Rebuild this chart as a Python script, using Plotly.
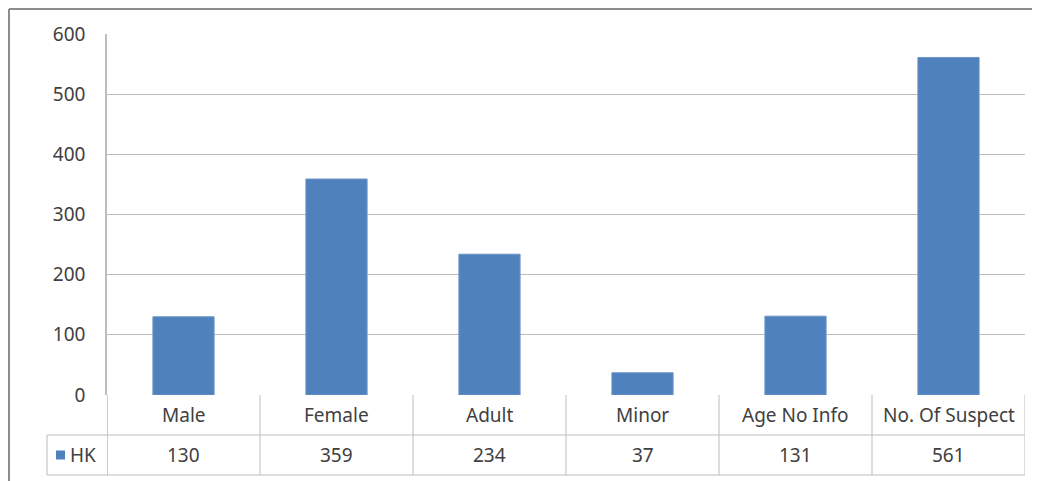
import plotly.graph_objects as go

categories = ["Male", "Female", "Adult", "Minor", "Age No Info", "No. Of Suspect"]
series_name = "HK"
values = [130, 359, 234, 37, 131, 561]
y_ticks = [0, 100, 200, 300, 400, 500, 600]

# the page body adds an 8px offset, so local coords = screen - 8
W, H = 1032, 473
L, T = 99, 26
pw, ph = 918, 361
R = W - L - pw
B = H - T - ph
row_h = 40 / ph  # table row height in paper units

FONT = "Noto Sans"
FS = 19
TXT = "#404040"
LINE = "#bdbdbd"
BAR = "#4f81bd"

fig = go.Figure()
fig.add_trace(go.Bar(
    x=list(range(len(categories))), y=values, name=series_name,
    marker=dict(color=BAR, line=dict(color="#6d95c8", width=1)),
    width=0.4,
))

shapes = []
n = len(categories)
leg_x = -60 / pw
# vertical table lines at category boundaries
for i in range(n + 1):
    shapes.append(dict(type="line", xref="x", yref="paper", x0=i - 0.5, x1=i - 0.5,
                       y0=0, y1=-2 * row_h, line=dict(color=LINE, width=1.5 if i == 0 else 1)))
# horizontal table lines
for k in (1, 2):
    shapes.append(dict(type="line", xref="paper", yref="paper", x0=leg_x, x1=1,
                       y0=-k * row_h, y1=-k * row_h, line=dict(color=LINE, width=1)))
# left edge of legend cell
shapes.append(dict(type="line", xref="paper", yref="paper", x0=leg_x, x1=leg_x,
                   y0=-row_h, y1=-2 * row_h, line=dict(color=LINE, width=1)))
# legend key square
shapes.append(dict(type="rect", xref="paper", yref="paper",
                   x0=-51 / pw, x1=-42 / pw, y0=-1.5 * row_h - 4.5 / ph, y1=-1.5 * row_h + 4.5 / ph,
                   fillcolor=BAR, line=dict(width=0)))
# outer chart border (top and left visible)
shapes.append(dict(type="line", xref="paper", yref="paper",
                   x0=-(L - 1) / pw, x1=1 + (R + 5) / pw, y0=1 + (T - 1) / ph, y1=1 + (T - 1) / ph,
                   line=dict(color="#8c8c8c", width=2)))
shapes.append(dict(type="line", xref="paper", yref="paper",
                   x0=-(L - 1) / pw, x1=-(L - 1) / pw, y0=1 + (T - 1) / ph, y1=-(B + 5) / ph,
                   line=dict(color="#8c8c8c", width=2)))

annotations = []
for i, (c, v) in enumerate(zip(categories, values)):
    annotations.append(dict(x=i, y=-0.5 * row_h, xref="x", yref="paper", text=c, showarrow=False,
                            font=dict(family=FONT, size=FS, color=TXT), yanchor="middle"))
    annotations.append(dict(x=i, y=-1.5 * row_h, xref="x", yref="paper", text=str(v), showarrow=False,
                            font=dict(family=FONT, size=FS, color=TXT), yanchor="middle"))
annotations.append(dict(x=-39 / pw, y=-1.5 * row_h, xref="paper", yref="paper", text=series_name,
                        showarrow=False, xanchor="left", yanchor="middle",
                        font=dict(family=FONT, size=FS, color=TXT)))

fig.update_layout(
    width=W, height=H,
    margin=dict(l=L, r=R, t=T, b=B),
    paper_bgcolor="white", plot_bgcolor="white",
    showlegend=False,
    shapes=shapes, annotations=annotations,
)
fig.update_xaxes(range=[-0.5, n - 0.5], showticklabels=False, showgrid=False, zeroline=False,
                 showline=False, ticks="")
fig.update_yaxes(range=[0, 600], tickvals=y_ticks, showgrid=True, gridcolor=LINE, gridwidth=1,
                 zeroline=False, showline=True, linecolor=LINE, linewidth=1.5, ticks="",
                 ticklabelstandoff=16, tickfont=dict(family=FONT, size=FS, color=TXT))

fig.write_html("out.html")
